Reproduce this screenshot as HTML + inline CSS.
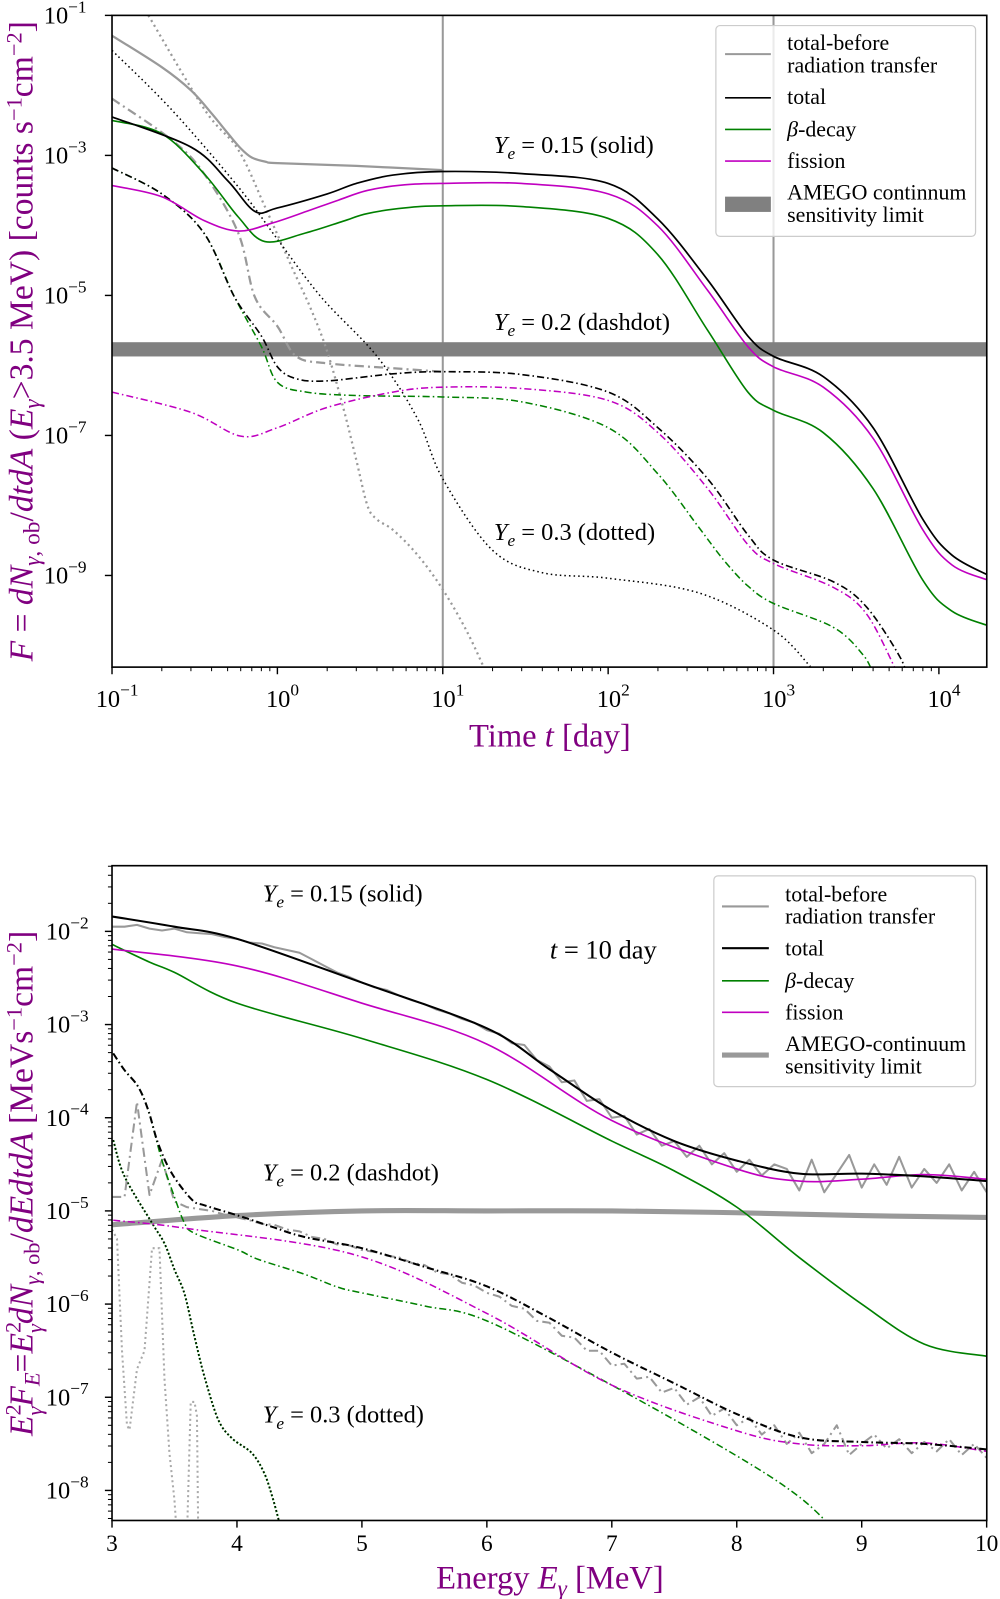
<!DOCTYPE html>
<html><head><meta charset="utf-8"><style>
html,body{margin:0;padding:0;background:#fff;}
svg{display:block;font-family:"Liberation Serif","DejaVu Serif",serif;}
</style></head><body>
<svg id="fig" width="1000" height="1599" viewBox="0 0 982 1570" xmlns="http://www.w3.org/2000/svg">
<defs>
<clipPath id="c1"><rect x="110" y="15" width="859" height="640"/></clipPath>
<clipPath id="c2"><rect x="110" y="850" width="859" height="643"/></clipPath>
</defs>
<g id="p1"></g>
<g id="p2"></g>
</svg>
<script>
// ===== Top panel data (t in days, values are log10 F) =====
const top_before_solid_t=[0.1,0.2,0.3,0.4,0.5,0.6,0.7,0.85,1,3,10];
const top_before_solid_v=[-1.29,-1.74,-2.07,-2.40,-2.68,-2.90,-3.03,-3.09,-3.11,-3.15,-3.21];
const top_total_solid_t=[0.1,0.3,0.5,0.73,1,2,3,5,10,30,100,200,400,700,1000,2000,4000,8000,12000,20000];
const top_total_solid_v=[-2.45,-2.88,-3.36,-3.80,-3.75,-3.55,-3.40,-3.28,-3.23,-3.26,-3.40,-3.91,-4.78,-5.58,-5.87,-6.16,-6.89,-8.2,-8.71,-9.0];
const top_fission_solid_t=[0.1,0.2,0.36,0.58,0.92,1.5,2.33,3.5,5.87,10,30,100,200,400,700,1000,2000,4000,8000,12000,20000];
const top_fission_solid_v=[-3.43,-3.59,-3.93,-4.08,-3.97,-3.80,-3.64,-3.50,-3.42,-3.40,-3.40,-3.55,-4.01,-4.93,-5.73,-6.02,-6.31,-7.04,-8.35,-8.85,-9.07];
const top_beta_solid_t=[0.1,0.2,0.36,0.58,0.84,1.47,2.5,3.5,5.87,10,30,100,200,400,700,1000,2000,4000,8000,12000,20000];
const top_beta_solid_v=[-2.50,-2.69,-3.26,-3.88,-4.23,-4.11,-3.94,-3.83,-3.75,-3.72,-3.73,-3.90,-4.42,-5.5,-6.38,-6.64,-6.96,-7.76,-9.07,-9.51,-9.72];
const top_before_dd_t=[0.1,0.23,0.36,0.58,0.73,1,1.3,2,5,10];
const top_before_dd_v=[-2.19,-2.78,-3.26,-4.11,-5.02,-5.44,-5.87,-5.97,-6.04,-6.09];
const top_total_dd_t=[0.1,0.2,0.36,0.55,0.8,1,1.3,2,5,10,30,100,200,400,700,1000,2300,3650,5800,6500];
const top_total_dd_v=[-3.18,-3.55,-4.11,-5.02,-5.58,-6.02,-6.19,-6.22,-6.12,-6.09,-6.13,-6.38,-6.89,-7.62,-8.42,-8.78,-9.09,-9.45,-10.16,-10.5];
const top_fission_dd_t=[0.1,0.3,0.6,1,2,5,10,30,100,200,400,700,1000,2300,3650,5500];
const top_fission_dd_v=[-6.38,-6.67,-7.01,-6.89,-6.6,-6.38,-6.31,-6.33,-6.5,-6.96,-7.76,-8.56,-8.83,-9.17,-9.55,-10.35];
const top_beta_dd_t=[0.1,0.2,0.36,0.55,0.8,1,1.5,3,10,30,100,200,350,500,700,1000,2300,3470,4000];
const top_beta_dd_v=[-3.18,-3.55,-4.11,-5.02,-5.73,-6.24,-6.38,-6.43,-6.45,-6.52,-6.89,-7.55,-8.3,-8.78,-9.15,-9.40,-9.74,-10.13,-10.4];
const top_before_dot_t=[0.166,0.364,0.58,0.84,1.22,1.6,2,2.5,3,3.5,4,5,7,10,14,18];
const top_before_dot_v=[-1.0,-2.35,-2.92,-3.73,-4.59,-5.2,-5.8,-6.6,-7.35,-8.0,-8.2,-8.35,-8.7,-9.2,-9.8,-10.35];
const top_total_dot_t=[0.1,0.23,0.58,1.01,1.85,4,7,10,20,40,100,355,1000,1670];
const top_total_dot_v=[-1.50,-2.35,-3.45,-4.21,-5.03,-5.87,-6.75,-7.62,-8.64,-8.96,-9.04,-9.25,-9.78,-10.3];
const top_amego_v=-5.77;
const top_vlines_t=[10,1000];
const top_xticks=[-1,0,1,2,3,4];
const top_yticks=[-1,-3,-5,-7,-9];

// ===== Bottom panel data (E in MeV, values are log10 E^2F_E) =====
const bot_total_s_E=[3,3.5,4,5,6,6.5,7,7.5,8,8.5,9,9.5,10];
const bot_total_s_v=[-1.84,-1.95,-2.08,-2.55,-3.04,-3.48,-3.92,-4.25,-4.46,-4.60,-4.60,-4.63,-4.68];
const bot_fission_s_E=[3,4,5,6,7,8,8.5,9,9.5,10];
const bot_fission_s_v=[-2.19,-2.37,-2.77,-3.21,-4.03,-4.55,-4.68,-4.66,-4.61,-4.66];
const bot_beta_s_E=[3,3.3,3.5,4,5,6,7,7.5,8,8.5,9,9.5,10];
const bot_beta_s_v=[-2.14,-2.33,-2.44,-2.77,-3.15,-3.59,-4.25,-4.57,-4.96,-5.50,-6.0,-6.43,-6.56];
const bot_grid_E=[3.0,3.1,3.2,3.3,3.4,3.5,3.6,3.7,3.8,3.9,4.0,4.1,4.2,4.3,4.4,4.5,4.6,4.7,4.8,4.9,5.0,5.1,5.2,5.3,5.4,5.5,5.6,5.7,5.8,5.9,6.0,6.1,6.2,6.3,6.4,6.5,6.6,6.7,6.8,6.9,7.0,7.1,7.2,7.3,7.4,7.5,7.6,7.7,7.8,7.9,8.0,8.1,8.2,8.3,8.4,8.5,8.6,8.7,8.8,8.9,9.0,9.1,9.2,9.3,9.4,9.5,9.6,9.7,9.8,9.9,10.0];
const bot_before_s_v=[-1.95,-1.95,-1.93,-1.97,-1.99,-1.97,-2.01,-2.02,-2.03,-2.06,-2.08,-2.12,-2.13,-2.17,-2.20,-2.23,-2.30,-2.37,-2.44,-2.49,-2.55,-2.60,-2.63,-2.69,-2.74,-2.78,-2.84,-2.88,-2.94,-2.98,-3.06,-3.1,-3.2,-3.22,-3.38,-3.45,-3.62,-3.6,-3.82,-3.8,-4.0,-3.98,-4.18,-4.12,-4.3,-4.25,-4.42,-4.3,-4.5,-4.38,-4.58,-4.45,-4.62,-4.5,-4.55,-4.78,-4.45,-4.8,-4.6,-4.4,-4.75,-4.5,-4.72,-4.42,-4.75,-4.55,-4.7,-4.5,-4.78,-4.58,-4.8];
const bot_before_dd_v=[-4.85,-4.85,-3.83,-4.83,-4.45,-4.9,-4.96,-4.98,-5.0,-5.04,-5.07,-5.1,-5.14,-5.15,-5.2,-5.22,-5.28,-5.3,-5.36,-5.37,-5.42,-5.44,-5.48,-5.5,-5.56,-5.58,-5.66,-5.68,-5.77,-5.8,-5.88,-5.92,-6.02,-6.05,-6.18,-6.2,-6.34,-6.36,-6.5,-6.5,-6.66,-6.64,-6.8,-6.78,-6.95,-6.9,-7.08,-7.0,-7.2,-7.12,-7.3,-7.22,-7.4,-7.3,-7.5,-7.38,-7.6,-7.5,-7.3,-7.62,-7.5,-7.4,-7.55,-7.45,-7.6,-7.48,-7.58,-7.45,-7.62,-7.5,-7.65];
const bot_total_dd_E=[3.01,3.10,3.21,3.29,3.37,3.48,3.64,3.74,4.01,4.28,4.54,5,5.5,6,6.5,7,7.5,8,8.5,9,9.5,10];
const bot_total_dd_v=[-3.31,-3.49,-3.67,-3.92,-4.28,-4.60,-4.88,-4.94,-5.05,-5.17,-5.28,-5.40,-5.6,-5.81,-6.15,-6.52,-6.85,-7.18,-7.43,-7.48,-7.5,-7.56];
const bot_fission_dd_E=[3.01,3.61,4.94,6,7,8,8.5,9,9.5,10];
const bot_fission_dd_v=[-5.10,-5.19,-5.47,-6.10,-6.87,-7.36,-7.50,-7.52,-7.49,-7.58];
const bot_beta_dd_E=[3.01,3.10,3.21,3.29,3.40,3.50,3.58,3.66,4.01,4.17,4.54,4.81,5,5.5,6,7,8,8.5,8.8];
const bot_beta_dd_v=[-3.31,-3.49,-3.67,-3.92,-4.46,-4.85,-5.13,-5.24,-5.42,-5.52,-5.68,-5.82,-5.88,-6.02,-6.18,-6.87,-7.63,-8.07,-8.45];
const bot_dot_E=[3.01,3.10,3.32,3.42,3.50,3.58,3.66,3.74,3.85,3.96,4.12,4.22,4.29,4.35];
const bot_dot_v=[-4.24,-4.63,-5.13,-5.35,-5.63,-5.89,-6.35,-6.78,-7.24,-7.44,-7.60,-7.82,-8.10,-8.4];
const bot_before_dot_E=[3.0,3.04,3.08,3.12,3.14,3.2,3.26,3.32,3.38,3.42,3.46,3.5,3.52,3.6,3.63,3.66,3.68,3.69];
const bot_before_dot_v=[-5.2,-5.3,-6.5,-7.3,-7.35,-6.7,-6.5,-5.4,-5.4,-6.8,-7.6,-8.1,-8.5,-8.5,-7.05,-7.05,-7.2,-8.5];
const bot_amego_E=[3,4,5,6,7,8,9,10];
const bot_amego_v=[-5.15,-5.05,-5.0,-5.0,-5.0,-5.02,-5.05,-5.07];
const bot_xticks=[3,4,5,6,7,8,9,10];
const bot_yticks=[-2,-3,-4,-5,-6,-7,-8];

// ===== axes =====
const X1=t=>110+(Math.log10(t)+1)*162.4;
const Y1=l=>15+(-1-l)*68.75;
const X2=E=>110+(E-3)*122.7;
const Y2=l=>914.5+(-2-l)*91.5;
const NS="http://www.w3.org/2000/svg";
const p1=document.getElementById('p1'), p2=document.getElementById('p2');
const GREEN="#008000", MAG="#c000c0", GRAY="#999999", PURP="#800080";
function mk(tag,parent,attrs){const e=document.createElementNS(NS,tag);for(const k in attrs)e.setAttribute(k,attrs[k]);parent.appendChild(e);return e;}
function smooth(pts){
  if(pts.length<3)return 'M'+pts.map(p=>p.join(',')).join('L');
  let d='M'+pts[0][0].toFixed(1)+','+pts[0][1].toFixed(1);
  for(let i=0;i<pts.length-1;i++){
    const p0=pts[i-1]||pts[i],p1=pts[i],p2=pts[i+1],p3=pts[i+2]||p2;
    const c1=[p1[0]+(p2[0]-p0[0])/6,p1[1]+(p2[1]-p0[1])/6];
    const c2=[p2[0]-(p3[0]-p1[0])/6,p2[1]-(p3[1]-p1[1])/6];
    d+='C'+c1.map(v=>v.toFixed(1))+' '+c2.map(v=>v.toFixed(1))+' '+p2.map(v=>v.toFixed(1));
  }
  return d;
}
function series(g,clip,xs,vs,fx,fy,color,w,dash,name,straight){
  const pts=xs.map((x,i)=>[fx(x),fy(vs[i])]);
  const d=straight?'M'+pts.map(p=>p[0].toFixed(1)+','+p[1].toFixed(1)).join('L'):smooth(pts);
  const el=mk('path',g,{d:d,fill:'none',stroke:color,'stroke-width':w,'clip-path':'url(#'+clip+')','stroke-linejoin':'round'});
  if(dash)el.setAttribute('stroke-dasharray',dash);
  
  
  return el;
}
function text(g,x,y,str,size,anchor,name,fill){
  const t=mk('text',g,{x:x,y:y,'font-size':size,'text-anchor':anchor||'start',fill:fill||'#000'});
  t.innerHTML=str;
  
  
  return t;
}
const DD="7,3,1.5,3", DOT="1.5,3";
function ye(val,style){return '<tspan font-style="italic">Y</tspan><tspan font-style="italic" font-size="17" dy="6">e</tspan><tspan dy="-6"> = '+val+' ('+style+')</tspan>';}

// ===== TOP PANEL =====
top_vlines_t.forEach(t=>{const l=mk('line',p1,{x1:X1(t),x2:X1(t),y1:15,y2:655,stroke:GRAY,'stroke-width':2});

});
const band=mk('rect',p1,{x:110,y:Y1(top_amego_v)-7,width:859,height:14,fill:'#808080'});


series(p1,'c1',top_before_dot_t,top_before_dot_v,X1,Y1,GRAY,2.2,"2,3.5",'before-dotted-ye03');
series(p1,'c1',top_total_dot_t,top_total_dot_v,X1,Y1,'#000',1.5,DOT,'total-dotted-ye03');
series(p1,'c1',top_before_dd_t,top_before_dd_v,X1,Y1,GRAY,2.2,"9,4,2,4",'before-dashdot-ye02');
series(p1,'c1',top_beta_dd_t,top_beta_dd_v,X1,Y1,GREEN,1.5,DD,'beta-dashdot-ye02');
series(p1,'c1',top_fission_dd_t,top_fission_dd_v,X1,Y1,MAG,1.5,DD,'fission-dashdot-ye02');
series(p1,'c1',top_total_dd_t,top_total_dd_v,X1,Y1,'#000',1.6,DD,'total-dashdot-ye02');
series(p1,'c1',top_before_solid_t,top_before_solid_v,X1,Y1,GRAY,2.2,null,'before-solid-ye015');
series(p1,'c1',top_beta_solid_t,top_beta_solid_v,X1,Y1,GREEN,1.6,null,'beta-solid-ye015');
series(p1,'c1',top_fission_solid_t,top_fission_solid_v,X1,Y1,MAG,1.6,null,'fission-solid-ye015');
series(p1,'c1',top_total_solid_t,top_total_solid_v,X1,Y1,'#000',1.7,null,'total-solid-ye015');
let fr=mk('rect',p1,{x:110,y:15,width:859,height:640,fill:'none',stroke:'#000','stroke-width':1.6});


top_xticks.forEach(e=>{
  const x=X1(Math.pow(10,e));
  mk('line',p1,{x1:x,x2:x,y1:655,y2:662,stroke:'#000','stroke-width':1.4});
  text(p1,x+5,694,'10<tspan dy="-11" font-size="17">'+(e<0?'\u2212'+Math.abs(e):e)+'</tspan>',24,'middle','x-tick-label');
  for(let m=2;m<10;m++){const xm=X1(m*Math.pow(10,e));if(xm<969)mk('line',p1,{x1:xm,x2:xm,y1:655,y2:659,stroke:'#000','stroke-width':1});}
});
top_yticks.forEach(e=>{
  const y=Y1(e);
  mk('line',p1,{x1:103,x2:110,y1:y,y2:y,stroke:'#000','stroke-width':1.4});
  text(p1,64,y+8,'10<tspan dy="-11" font-size="17">\u2212'+Math.abs(e)+'</tspan>',24,'middle','y-tick-label');
});
text(p1,540,733,'Time <tspan font-style="italic">t</tspan> [day]',32,'middle','x-axis-title',PURP);
let yt1=text(p1,0,0,'<tspan font-style="italic">F</tspan> = <tspan font-style="italic">dN</tspan><tspan font-size="23" dy="7"><tspan font-style="italic">γ</tspan>, ob</tspan><tspan dy="-7">/</tspan><tspan font-style="italic">dtdA</tspan> (<tspan font-style="italic">E</tspan><tspan font-size="23" dy="7" font-style="italic">γ</tspan><tspan dy="-7">&gt;3.5 MeV) [counts s</tspan><tspan font-size="22" dy="-11">−1</tspan><tspan dy="11">cm</tspan><tspan font-size="22" dy="-11">−2</tspan><tspan dy="11">]</tspan>',33,'middle','y-axis-title',PURP);
yt1.setAttribute('transform','translate(32,335) rotate(-90)');
text(p1,485,150,ye('0.15','solid'),24,'start','label-ye015');
text(p1,485,324,ye('0.2','dashdot'),24,'start','label-ye02');
text(p1,485,530,ye('0.3','dotted'),24,'start','label-ye03');
const lg1=mk('g',p1,{});


mk('rect',lg1,{x:703,y:25,width:255,height:207,rx:4,fill:'rgba(255,255,255,0.8)',stroke:'#ccc','stroke-width':1.2});
[[53,GRAY,2,'total-before'],[96,'#000',1.6,'total'],[127,GREEN,1.6,'beta-decay'],[158,MAG,1.6,'fission']].forEach(r=>{
  const l=mk('line',lg1,{x1:712,x2:757,y1:r[0],y2:r[0],stroke:r[1],'stroke-width':r[2]});
  
  
});
mk('rect',lg1,{x:712,y:193,width:45,height:15,fill:'#808080'});
text(lg1,773,49,'total-before',21.5,'start','legend-text');
text(lg1,773,71,'radiation transfer',21.5,'start','legend-text');
text(lg1,773,102,'total',21.5,'start','legend-text');
text(lg1,773,134,'<tspan font-style="italic">β</tspan>-decay',21.5,'start','legend-text');
text(lg1,773,165,'fission',21.5,'start','legend-text');
text(lg1,773,196,'AMEGO continnum',21.5,'start','legend-text');
text(lg1,773,218,'sensitivity limit',21.5,'start','legend-text');

// ===== BOTTOM PANEL =====
series(p2,'c2',bot_amego_E,bot_amego_v,X2,Y2,'#999',5,null,'amego-sensitivity-line');
series(p2,'c2',bot_before_dot_E,bot_before_dot_v,X2,Y2,'#aaa',2,"2,3",'before-dotted-ye03',true);
series(p2,'c2',bot_dot_E,bot_dot_v,X2,Y2,GREEN,2,"2,2",'beta-dotted-ye03');
series(p2,'c2',bot_dot_E,bot_dot_v,X2,Y2,'#000',1.5,"1.5,2.5",'total-dotted-ye03');
series(p2,'c2',bot_grid_E,bot_before_dd_v,X2,Y2,'#999',2,"9,4,2,4",'before-dashdot-ye02',true);
series(p2,'c2',bot_beta_dd_E,bot_beta_dd_v,X2,Y2,GREEN,1.5,DD,'beta-dashdot-ye02');
series(p2,'c2',bot_fission_dd_E,bot_fission_dd_v,X2,Y2,MAG,1.5,DD,'fission-dashdot-ye02');
series(p2,'c2',bot_total_dd_E,bot_total_dd_v,X2,Y2,'#000',2,DD,'total-dashdot-ye02');
series(p2,'c2',bot_grid_E,bot_before_s_v,X2,Y2,'#999',2,null,'before-solid-ye015',true);
series(p2,'c2',bot_beta_s_E,bot_beta_s_v,X2,Y2,GREEN,1.6,null,'beta-solid-ye015');
series(p2,'c2',bot_fission_s_E,bot_fission_s_v,X2,Y2,MAG,1.6,null,'fission-solid-ye015');
series(p2,'c2',bot_total_s_E,bot_total_s_v,X2,Y2,'#000',2,null,'total-solid-ye015');
fr=mk('rect',p2,{x:110,y:850,width:859,height:643,fill:'none',stroke:'#000','stroke-width':1.6});


bot_xticks.forEach(E=>{
  const x=X2(E);
  mk('line',p2,{x1:x,x2:x,y1:1493,y2:1500,stroke:'#000','stroke-width':1.4});
  text(p2,x,1523,String(E),23,'middle','x-tick-label');
});
bot_yticks.forEach(e=>{
  const y=Y2(e);
  mk('line',p2,{x1:103,x2:110,y1:y,y2:y,stroke:'#000','stroke-width':1.4});
  text(p2,66,y+8,'10<tspan dy="-11" font-size="17">\u2212'+Math.abs(e)+'</tspan>',24,'middle','y-tick-label');
  for(let m=2;m<10;m++){const ym=Y2(e+Math.log10(m));if(ym>850&&ym<1493)mk('line',p2,{x1:106,x2:110,y1:ym,y2:ym,stroke:'#000','stroke-width':1});}
  for(let m=2;m<10;m++){const ym=Y2(e-1+Math.log10(m));if(e===-8&&ym<1493)mk('line',p2,{x1:106,x2:110,y1:ym,y2:ym,stroke:'#000','stroke-width':1});}
});
text(p2,540,1560,'Energy <tspan font-style="italic">E</tspan><tspan font-style="italic" font-size="23" dy="7">γ</tspan><tspan dy="-7"> [MeV]</tspan>',32,'middle','x-axis-title',PURP);
let yt2=text(p2,0,0,'<tspan font-style="italic">E</tspan><tspan font-size="22" dy="-12">2</tspan><tspan font-size="22" dx="-11" dy="21" font-style="italic">γ</tspan><tspan dy="-9" font-style="italic">F</tspan><tspan font-size="22" dy="7" font-style="italic">E</tspan><tspan dy="-7">=</tspan><tspan font-style="italic">E</tspan><tspan font-size="22" dy="-12">2</tspan><tspan font-size="22" dx="-11" dy="21" font-style="italic">γ</tspan><tspan dy="-9" font-style="italic">dN</tspan><tspan font-size="22" dy="7"><tspan font-style="italic">γ</tspan>, ob</tspan><tspan dy="-7">/</tspan><tspan font-style="italic">dEdtdA</tspan> [MeVs<tspan font-size="22" dy="-11">−1</tspan><tspan dy="11">cm</tspan><tspan font-size="22" dy="-11">−2</tspan><tspan dy="11">]</tspan>',33,'middle','y-axis-title',PURP);
yt2.setAttribute('transform','translate(32,1162) rotate(-90)');
text(p2,258,885,ye('0.15','solid'),24,'start','label-ye015');
text(p2,258,1159,ye('0.2','dashdot'),24,'start','label-ye02');
text(p2,258,1397,ye('0.3','dotted'),24,'start','label-ye03');
text(p2,540,941,'<tspan font-style="italic">t</tspan> = 10 day',26,'start','time-annotation');
const lg2=mk('g',p2,{});


mk('rect',lg2,{x:701,y:860,width:257,height:207,rx:4,fill:'rgba(255,255,255,0.8)',stroke:'#ccc','stroke-width':1.2});
[[890,'#999',2,'total-before'],[931,'#000',2,'total'],[963,GREEN,1.6,'beta-decay'],[994,MAG,1.6,'fission'],[1036,'#999',5,'amego']].forEach(r=>{
  const l=mk('line',lg2,{x1:709,x2:755,y1:r[0],y2:r[0],stroke:r[1],'stroke-width':r[2]});
  
  
});
text(lg2,771,885,'total-before',21.5,'start','legend-text');
text(lg2,771,907,'radiation transfer',21.5,'start','legend-text');
text(lg2,771,938,'total',21.5,'start','legend-text');
text(lg2,771,970,'<tspan font-style="italic">β</tspan>-decay',21.5,'start','legend-text');
text(lg2,771,1001,'fission',21.5,'start','legend-text');
text(lg2,771,1032,'AMEGO-continuum',21.5,'start','legend-text');
text(lg2,771,1054,'sensitivity limit',21.5,'start','legend-text');
</script>
</body></html>
